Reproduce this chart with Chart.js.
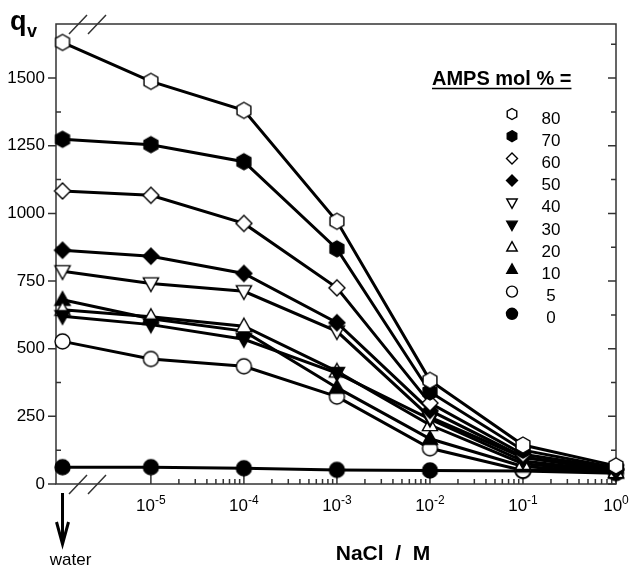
<!DOCTYPE html>
<html>
<head>
<meta charset="utf-8">
<script src="https://cdn.jsdelivr.net/npm/chart.js@4.4.1/dist/chart.umd.min.js"></script>
<style>
  body { margin: 0; background: #fff; }
  #wrap { width: 630px; height: 567px; }
</style>
</head>
<body>
<div id="wrap"><canvas id="qvChart"></canvas></div>
<script>
// x positions are log10([NaCl] / M); the first point is pure water, left of the axis break
const xPositions = [-5.95, -5, -4, -3, -2, -1, 0];
const decades = [-5, -4, -3, -2, -1, 0];
const yTicks = [0, 250, 500, 750, 1000, 1250, 1500];

// AMPS content of each gel (mol %)
const ampsLabels = ['80', '70', '60', '50', '40', '30', '20', '10', '5', '0'];

// swelling ratio q_v for each gel, water then 1e-5 ... 1 M NaCl
const qv80 = [1632, 1488, 1381, 971, 383, 144, 67];
const qv70 = [1274, 1254, 1191, 869, 340, 125, 60];
const qv60 = [1083, 1067, 963, 725, 299, 110, 57];
const qv50 = [864, 842, 778, 596, 272, 100, 52];
const qv40 = [786, 741, 712, 564, 247, 98, 50];
const qv30 = [620, 589, 535, 410, 240, 85, 46];
const qv20 = [644, 618, 583, 416, 218, 75, 45];
const qv10 = [681, 611, 565, 356, 167, 65, 42];
const qv5 = [527, 462, 435, 323, 132, 50, 55];
const qv0 = [62, 62, 58, 52, 50, 48, 40];

const series = [qv80, qv70, qv60, qv50, qv40, qv30, qv20, qv10, qv5, qv0];
const shapes = ['hex', 'hex', 'diamond', 'diamond', 'tridown', 'tridown', 'triup', 'triup', 'circle', 'circle'];
const filled = [false, true, false, true, false, true, false, true, false, true];

const FONT = "'Liberation Sans', Arial, Helvetica, sans-serif";

function drawMarker(ctx, shape, solid, x, y, r) {
    ctx.beginPath();
    if (shape === 'circle') {
        ctx.arc(x, y, r, 0, Math.PI * 2);
    } else if (shape === 'hex') {
        for (let i = 0; i < 6; i++) {
            const a = -Math.PI / 2 + i * Math.PI / 3;
            const px = x + r * Math.cos(a), py = y + r * Math.sin(a);
            i ? ctx.lineTo(px, py) : ctx.moveTo(px, py);
        }
    } else if (shape === 'diamond') {
        ctx.moveTo(x, y - r);
        ctx.lineTo(x + r, y);
        ctx.lineTo(x, y + r);
        ctx.lineTo(x - r, y);
    } else if (shape === 'triup') {
        ctx.moveTo(x, y - r);
        ctx.lineTo(x + r * 0.95, y + r * 0.7);
        ctx.lineTo(x - r * 0.95, y + r * 0.7);
    } else {
        ctx.moveTo(x, y + r);
        ctx.lineTo(x + r * 0.95, y - r * 0.7);
        ctx.lineTo(x - r * 0.95, y - r * 0.7);
    }
    ctx.closePath();
    ctx.fillStyle = solid ? '#000' : '#fff';
    ctx.fill();
    ctx.lineWidth = 1.4;
    ctx.strokeStyle = '#000';
    ctx.stroke();
}

function makeMarker(shape, solid, r) {
    const c = document.createElement('canvas');
    c.width = c.height = Math.ceil(2 * r + 4);
    drawMarker(c.getContext('2d'), shape, solid, c.width / 2, c.height / 2, r);
    return c;
}

const markerSize = { hex: 8, diamond: 8, tridown: 8, triup: 8, circle: 7.5 };

const datasets = series.map((vals, i) => ({
    label: ampsLabels[i],
    data: vals.map((v, j) => ({ x: xPositions[j], y: v })),
    borderColor: '#000',
    borderWidth: 3,
    pointStyle: makeMarker(shapes[i], filled[i], markerSize[shapes[i]]),
    pointRadius: 8,
    clip: false,
    tension: 0
}));

const axesDecor = {
    id: 'axesDecor',
    beforeDatasetsDraw(chart) {
        const { ctx, chartArea: a, scales: { x, y } } = chart;
        ctx.save();
        ctx.strokeStyle = '#333';
        ctx.lineWidth = 1.5;
        ctx.strokeRect(a.left, a.top, a.right - a.left, a.bottom - a.top);

        ctx.beginPath();
        // left axis: major ticks outside, minor inside; right axis ticks inside
        yTicks.forEach(v => {
            const py = y.getPixelForValue(v);
            ctx.moveTo(a.left - 8, py); ctx.lineTo(a.left, py);
            ctx.moveTo(a.right - 8, py); ctx.lineTo(a.right, py);
        });
        for (let v = 125; v < 1700; v += 250) {
            const py = y.getPixelForValue(v);
            ctx.moveTo(a.left, py); ctx.lineTo(a.left + 5, py);
            ctx.moveTo(a.right - 5, py); ctx.lineTo(a.right, py);
        }
        // log ticks on the concentration axis
        decades.forEach((d, k) => {
            const px = x.getPixelForValue(d);
            ctx.moveTo(px, a.bottom); ctx.lineTo(px, a.bottom - 9);
            if (k < decades.length - 1) {
                for (let m = 2; m <= 9; m++) {
                    const mx = x.getPixelForValue(d + Math.log10(m));
                    ctx.moveTo(mx, a.bottom); ctx.lineTo(mx, a.bottom - 5);
                }
            }
        });
        ctx.stroke();

        // axis break marks
        ctx.beginPath();
        [a.top, a.bottom].forEach(yy => {
            ctx.moveTo(a.left + 13, yy + 10); ctx.lineTo(a.left + 31, yy - 9);
            ctx.moveTo(a.left + 32, yy + 10); ctx.lineTo(a.left + 50, yy - 9);
        });
        ctx.stroke();
        ctx.restore();
    },
    afterDraw(chart) {
        const { ctx, chartArea: a, scales: { x } } = chart;
        ctx.save();
        ctx.fillStyle = '#000';
        ctx.textBaseline = 'alphabetic';

        // decade labels 10^n
        decades.forEach(d => {
            const px = x.getPixelForValue(d);
            ctx.font = '17px ' + FONT;
            const wb = ctx.measureText('10').width;
            ctx.font = '12px ' + FONT;
            const exp = String(d);
            const we = ctx.measureText(exp).width;
            const x0 = px - (wb + we) / 2;
            ctx.font = '17px ' + FONT;
            ctx.fillText('10', x0, 511);
            ctx.font = '12px ' + FONT;
            ctx.fillText(exp, x0 + wb, 504);
        });

        // y axis title q_v
        ctx.font = 'bold 27px ' + FONT;
        ctx.fillText('q', 10, 30);
        ctx.font = 'bold 18px ' + FONT;
        ctx.fillText('v', 27, 37);

        // x axis title
        ctx.font = 'bold 21px ' + FONT;
        ctx.textAlign = 'center';
        ctx.fillText('NaCl  /  M', 383, 560);

        // water arrow and label
        const wx = x.getPixelForValue(xPositions[0]);
        ctx.strokeStyle = '#000';
        ctx.lineWidth = 3;
        ctx.beginPath();
        ctx.moveTo(wx, a.bottom + 9); ctx.lineTo(wx, a.bottom + 60);
        ctx.moveTo(wx - 6, a.bottom + 38); ctx.lineTo(wx, a.bottom + 60); ctx.lineTo(wx + 6, a.bottom + 38);
        ctx.stroke();
        ctx.font = '17px ' + FONT;
        ctx.fillText('water', wx + 8, 565);

        // legend
        ctx.textAlign = 'left';
        ctx.font = 'bold 20px ' + FONT;
        const title = 'AMPS mol % =';
        const tw = ctx.measureText(title).width;
        ctx.fillText(title, 432, 85);
        ctx.lineWidth = 1.6;
        ctx.beginPath();
        ctx.moveTo(432, 88.5); ctx.lineTo(432 + tw, 88.5);
        ctx.stroke();

        ctx.font = '17px ' + FONT;
        ctx.textAlign = 'center';
        ctx.textBaseline = 'middle';
        ampsLabels.forEach((lab, i) => {
            const ly = 115 + i * 22.2;
            drawMarker(ctx, shapes[i], filled[i], 512, ly - 1, 5.5);
            ctx.fillStyle = '#000';
            ctx.fillText(lab, 551, ly + 4);
        });
        ctx.restore();
    }
};

new Chart(document.getElementById('qvChart'), {
    type: 'line',
    data: { datasets },
    options: {
        responsive: true,
        maintainAspectRatio: false,
        animation: false,
        layout: { padding: { top: 24, right: 14, left: 0, bottom: 0 } },
        plugins: { legend: { display: false }, tooltip: { enabled: false } },
        scales: {
            x: {
                type: 'linear',
                min: -6.02,
                max: 0,
                grid: { display: false, drawTicks: false },
                border: { display: false },
                ticks: { display: false },
                afterFit: (s) => { s.height = 83; }
            },
            y: {
                min: 0,
                max: 1700,
                grid: { display: false, drawTicks: false },
                border: { display: false },
                afterBuildTicks: (s) => { s.ticks = yTicks.map(v => ({ value: v })); },
                ticks: {
                    color: '#000',
                    padding: 11,
                    font: { size: 17, family: FONT },
                    callback: (v) => String(v)
                },
                afterFit: (s) => { s.width = 56; }
            }
        }
    },
    plugins: [axesDecor]
});
</script>
</body>
</html>
